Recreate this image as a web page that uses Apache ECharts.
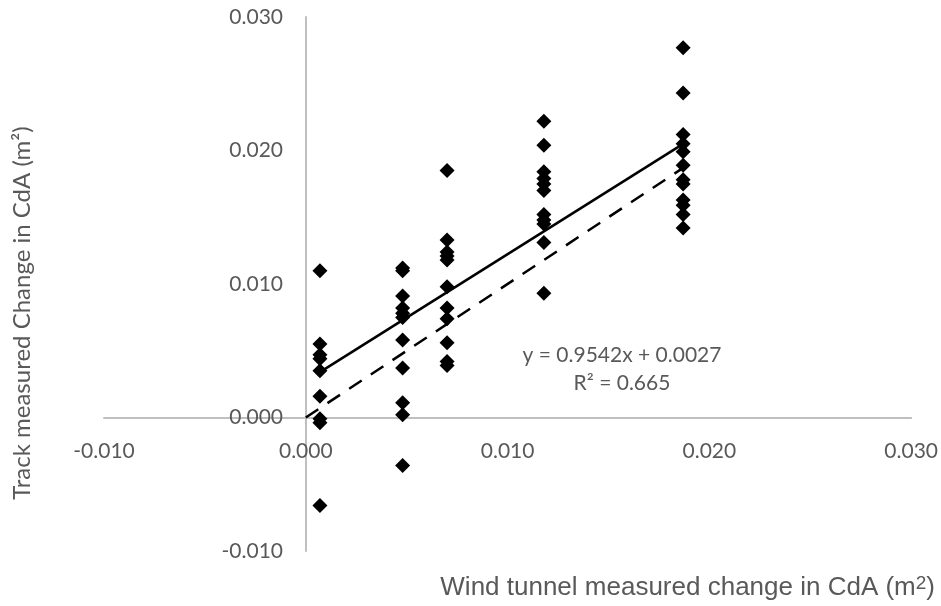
<!DOCTYPE html>
<html>
<head>
<meta charset="utf-8">
<script src="https://cdn.jsdelivr.net/npm/echarts@6/dist/echarts.min.js"></script>
<style>
  html, body { margin: 0; padding: 0; background: #fff; }
  #main { width: 941px; height: 606px; }
</style>
</head>
<body>
<div id="main"></div>
<script>
// wind tunnel change (x) for each group of runs
var xLevels = [0.0007, 0.0048, 0.0070, 0.0118, 0.0187];

// track measured change (y) for each group
var group1 = [0.0110, 0.0055, 0.0047, 0.0044, 0.0035, 0.0016, -0.0001, -0.0004, -0.0066];
var group2 = [0.0112, 0.0110, 0.0091, 0.0082, 0.0078, 0.0075, 0.0058, 0.0037, 0.0011, 0.0002, -0.0036];
var group3 = [0.0185, 0.0133, 0.0124, 0.0121, 0.0118, 0.0098, 0.0082, 0.0074, 0.0056, 0.0042, 0.0039];
var group4 = [0.0222, 0.0204, 0.0184, 0.0179, 0.0175, 0.0170, 0.0152, 0.0148, 0.0145, 0.0131, 0.0093];
var group5 = [0.0277, 0.0243, 0.0212, 0.0205, 0.0199, 0.0189, 0.0178, 0.0175, 0.0163, 0.0159, 0.0152, 0.0142];

// linear fit (solid) and line of equality (dashed)
var trendX = [0.0007, 0.0187];
var trendY = [0.0034, 0.0205];
var equalX = [0, 0.0187];
var equalY = [0, 0.0187];

var axisTicks = [-0.010, 0.000, 0.010, 0.020, 0.030];
var eqText = 'y = 0.9542x + 0.0027';
var r2Text = 'R² = 0.665';

var groups = [group1, group2, group3, group4, group5];
var points = [];
for (var i = 0; i < groups.length; i++) {
    for (var j = 0; j < groups[i].length; j++) {
        points.push([xLevels[i], groups[i][j]]);
    }
}
function pairs(xs, ys) {
    var out = [];
    for (var k = 0; k < xs.length; k++) out.push([xs[k], ys[k]]);
    return out;
}

var labelFont = 'Lato, "Noto Sans", sans-serif';
var grey = '#595959';

// axes cross at zero, Excel style: shift them in from the grid edges
var gridW = 941 - 104 - 29;
var gridH = 606 - 17 - 55;

var chart = echarts.init(document.getElementById('main'));
var option = {
    animation: false,
    backgroundColor: '#fff',
    grid: { left: 104, right: 29, top: 17, bottom: 55 },
    xAxis: {
        type: 'value',
        position: 'bottom',
        offset: -gridH / 4,
        min: axisTicks[0],
        max: axisTicks[axisTicks.length - 1],
        interval: 0.01,
        axisLine: { onZero: false, lineStyle: { color: '#bfbfbf', width: 2 } },
        axisTick: { show: false },
        splitLine: { show: false },
        axisLabel: {
            margin: 23,
            color: grey,
            fontFamily: labelFont,
            fontSize: 21,
            formatter: function (v) { return v.toFixed(3); }
        }
    },
    yAxis: {
        type: 'value',
        position: 'left',
        offset: -gridW / 4,
        min: axisTicks[0],
        max: axisTicks[axisTicks.length - 1],
        interval: 0.01,
        axisLine: { onZero: false, lineStyle: { color: '#bfbfbf', width: 2 } },
        axisTick: { show: false },
        splitLine: { show: false },
        axisLabel: {
            margin: 23,
            color: grey,
            fontFamily: labelFont,
            fontSize: 21,
            formatter: function (v) { return v.toFixed(3); }
        }
    },
    series: [
        {
            type: 'scatter',
            data: points,
            symbol: 'diamond',
            symbolSize: [15, 15],
            itemStyle: { color: '#000', opacity: 1 },
            z: 2
        },
        {
            type: 'line',
            data: pairs(trendX, trendY),
            symbol: 'none',
            lineStyle: { color: '#000', width: 2.5 },
            z: 3
        },
        {
            type: 'line',
            data: pairs(equalX, equalY),
            symbol: 'none',
            lineStyle: { color: '#000', width: 2.5, type: [15, 11] },
            z: 3
        }
    ],
    graphic: [
        {
            type: 'text',
            x: 622, y: 355,
            style: {
                text: eqText,
                fill: grey,
                font: '21px ' + labelFont,
                align: 'center',
                verticalAlign: 'middle'
            }
        },
        {
            type: 'text',
            x: 622, y: 383,
            style: {
                text: r2Text,
                fill: grey,
                font: '21px ' + labelFont,
                align: 'center',
                verticalAlign: 'middle'
            }
        },
        {
            type: 'text',
            x: 22, y: 313,
            rotation: Math.PI / 2,
            style: {
                text: 'Track measured Change in CdA (m²)',
                fill: grey,
                font: '24px ' + labelFont,
                align: 'center',
                verticalAlign: 'middle'
            }
        },
        {
            type: 'text',
            x: 935, y: 588,
            style: {
                text: '{t|Wind tunnel measured change in CdA (m}{s|2}{t|)}',
                align: 'right',
                verticalAlign: 'middle',
                rich: {
                    t: { fill: grey, fontFamily: '"Liberation Sans", Arial, sans-serif', fontSize: 26 },
                    s: { fill: grey, fontFamily: '"Liberation Sans", Arial, sans-serif', fontSize: 19, verticalAlign: 'top', padding: [0, 0, 8, 0] }
                }
            }
        }
    ]
};
option && chart.setOption(option);
</script>
</body>
</html>
